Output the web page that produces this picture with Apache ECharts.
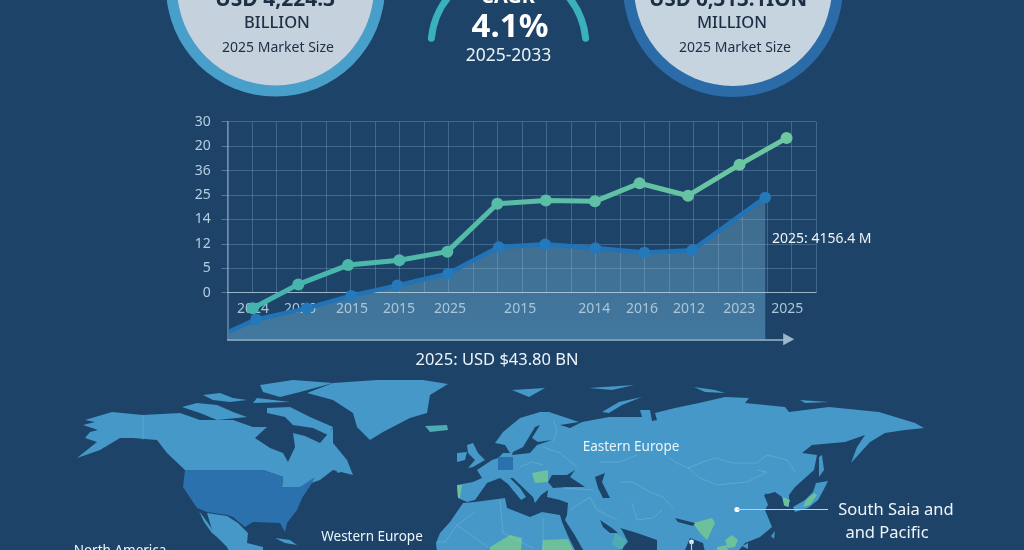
<!DOCTYPE html>
<html><head><meta charset="utf-8">
<style>html,body{margin:0;padding:0;background:#1d4369}#c{width:1024px;height:550px}</style>
<script src="https://cdn.jsdelivr.net/npm/echarts@6/dist/echarts.min.js"></script>
</head><body><div id="c"></div>
<script>
// ----- line chart data (positions in grid-cell units)
const yTickLabels = ['0','5','12','14','25','36','20','30'];
const xTickLabels = ['2024','2026','2015','2015','2025','2015','2014','2016','2012','2023','2025'];
const xTickPos    = [1.03,2.95,5.07,6.99,9.07,11.93,14.95,16.9,18.82,20.87,22.83];
const greenX = [1.02,2.88,4.91,7.0,8.96,11.0,12.98,14.98,16.8,18.78,20.88,22.8];
const greenY = [-0.64,0.34,1.13,1.33,1.68,3.64,3.77,3.74,4.48,3.97,5.24,6.33];
const blueX  = [0.05,1.16,3.22,5.04,6.92,9.0,11.06,12.95,15.0,17.0,18.95,21.93];
const blueY  = [-1.60,-1.09,-0.64,-0.12,0.30,0.79,1.87,1.98,1.83,1.65,1.74,3.90];
const areaFloor = -1.907;

// ----- base map outlines
const land = {
 northAmerica:[[85,420],[112,412],[143,415],[180,413],[200,420],[233,420],[253,427],[267,427],[255,438],[270,448],[283,453],[288,462],[295,447],[293,433],[305,436],[320,443],[333,428],[333,443],[347,460],[353,475],[333,470],[320,480],[300,487],[282,487],[283,477],[263,470],[185,470],[167,453],[157,440],[133,438],[120,438],[100,450],[77,458],[97,442],[85,438],[90,432],[98,430],[83,425],[95,422]],
 arctic1:[[182,407],[197,403],[217,405],[233,412],[247,417],[217,420],[200,413]],
 arctic2:[[203,395],[220,393],[233,398],[247,400],[230,402],[213,400]],
 arctic3:[[260,385],[293,380],[333,383],[300,392],[280,397],[263,392]],
 arctic4:[[257,398],[290,402],[253,403]],
 baffin:[[267,408],[290,407],[310,417],[333,427],[328,435],[313,428],[293,425],[285,417],[267,413]],
 newfoundland:[[334,468],[343,461],[346,470],[338,473]],
 greenland:[[307,393],[333,383],[377,380],[423,380],[448,384],[430,395],[427,413],[410,418],[383,432],[370,440],[357,427],[353,413],[333,400]],
 mexico:[[207,513],[227,516],[238,523],[248,533],[247,543],[263,547],[263,560],[233,560],[227,547],[213,533]],
 baja:[[199,511],[208,523],[217,537],[212,533],[204,522]],
 cuba:[[275,538],[290,540],[297,545],[285,543]],
 eurasia:[[457,485],[458,498],[467,502],[475,500],[487,483],[500,478],[508,484],[517,495],[521,500],[526,497],[520,488],[510,478],[513,478],[533,497],[535,503],[541,495],[548,490],[547,497],[560,500],[568,503],[567,515],[565,520],[574,534],[582,548],[590,560],[610,560],[628,542],[622,530],[620,528],[637,533],[657,540],[657,555],[662,560],[680,560],[685,550],[690,538],[703,543],[705,552],[708,560],[730,560],[739,550],[745,543],[760,537],[772,527],[765,510],[769,503],[765,493],[779,500],[784,505],[789,507],[789,495],[795,487],[814,470],[817,455],[802,453],[812,445],[845,442],[865,435],[857,447],[851,463],[870,442],[885,433],[905,430],[924,428],[915,423],[879,412],[829,407],[789,412],[785,407],[745,403],[749,398],[725,397],[699,403],[675,408],[655,413],[657,420],[652,421],[650,410],[640,410],[642,417],[609,417],[582,422],[570,428],[560,425],[579,422],[549,412],[540,412],[520,418],[503,432],[495,443],[505,445],[510,453],[503,453],[498,458],[492,460],[477,470],[482,478],[473,482]],
 britain:[[467,445],[473,443],[478,453],[485,460],[473,467],[468,468],[475,460],[468,453]],
 ireland:[[457,453],[467,452],[465,460],[457,462]],
 svalbard:[[512,390],[545,388],[529,397]],
 franzJosef:[[589,388],[634,385],[612,390]],
 severnaya:[[694,387],[715,390],[725,393],[705,392]],
 novaya:[[602,412],[619,402],[642,397],[622,405],[609,413]],
 siberianIs:[[800,400],[829,402],[805,403]],
 sakhalin:[[819,457],[822,455],[824,470],[819,477]],
 japan:[[816,483],[828,481],[823,491],[818,500],[808,508],[795,512],[793,507],[805,500],[813,492]],
 taiwan:[[771,536],[775,531],[774,539]],
 hainan:[[742,546],[748,543],[748,549]],
 sicily:[[513,483],[516,484],[516,491],[513,491]],
 africa:[[463,503],[475,502],[505,498],[507,508],[530,517],[542,512],[560,515],[562,522],[568,536],[575,550],[578,570],[440,580],[436,543],[440,533],[450,522]]
};
const usa = {usa:[[185,470],[263,470],[283,477],[282,487],[300,487],[315,477],[312,483],[302,498],[297,510],[287,523],[285,532],[280,523],[253,522],[245,527],[233,517],[227,515],[207,512],[197,508],[183,487]],
 germany:[[498,457],[513,457],[513,470],[498,470]]};
const greens = {
 portugal:[[457,485],[462,485],[460,498],[458,498]],
 romania:[[532,473],[548,470],[548,482],[535,483]],
 sahel:[[490,547],[510,535],[522,538],[520,560],[490,560]],
 sudan:[[542,550],[543,540],[568,539],[573,550],[575,560],[545,560]],
 eastIndia:[[693,523],[712,518],[715,523],[707,540],[700,533]],
 indochina:[[725,540],[732,535],[738,540],[735,547],[728,548]],
 malaya:[[717,547],[727,545],[728,550],[717,550]],
 korea:[[783,497],[790,500],[788,507],[783,505]],
 honshu:[[806,500],[814,493],[817,495],[810,505],[803,507]]
};
const teals = {
 iceland:[[425,426],[447,425],[448,430],[430,432]],
 oman:[[615,533],[627,540],[622,550],[612,545]]
};
const seas = {
 baltic:[[513,452],[523,447],[535,427],[540,425],[532,438],[538,442],[552,440],[537,445],[530,453],[512,455]],
 blackSea:[[548,482],[552,475],[567,475],[575,470],[570,477],[585,487],[567,487],[553,488]],
 caspian:[[595,477],[605,473],[602,482],[610,498],[603,498],[598,488]],
 gulf:[[600,520],[612,528],[618,533],[610,533],[603,527]],
 yellowSea:[[764,495],[775,492],[782,497],[784,505],[779,510],[769,507]],
 ganges:[[675,518],[695,523],[693,526],[678,522]]
};
const borders = [
 [[143,415],[143,440]],
 [[688,468],[700,463],[715,458],[733,463],[757,463],[767,455],[787,460],[795,472]],
 [[688,468],[700,478],[717,485],[747,482],[767,472],[757,470]],
 [[668,457],[677,463],[688,468]],
 [[600,462],[620,462],[637,455]],
 [[620,482],[633,482],[650,492],[663,497],[673,508]],
 [[632,503],[637,520],[653,518],[662,510]],
 [[437,542],[445,542],[457,525],[475,512]],
 [[457,525],[488,547]],
 [[500,500],[503,533],[533,548]],
 [[543,518],[543,550]],
 [[553,420],[557,430],[553,442]],
 [[543,447],[560,453],[577,467]],
 [[520,467],[532,462],[543,465]],
 [[570,510],[590,497],[597,510],[617,520]],
 [[563,488],[593,490]]
];

// ----- texts
const leftCircle  = ['USD 4,224.3','BILLION','2025 Market Size'];
const rightCircle = ['USD 6,313.1ION','MILLION','2025 Market Size'];
const cagrTexts   = ['CAGR','4.1%','2025-2033'];
const chartNotes  = ['2025: USD $43.80 BN','2025: 4156.4 M'];
const regionNames = ['Eastern Europe','Western Europe','North America','South Saia and','and Pacific'];

const FONT = '"Noto Sans", sans-serif';
const feats = [];
const addAll = (o)=>Object.keys(o).forEach(n=>feats.push({type:'Feature',properties:{name:n},
  geometry:{type:'Polygon',coordinates:[o[n].concat([o[n][0]]).map(p=>[p[0],-p[1]])]}}));
[land,usa,greens,teals,seas].forEach(addAll);
echarts.registerMap('world',{type:'FeatureCollection',features:feats});

const mix=(a,b,t)=>'rgb('+a.map((v,i)=>Math.round(v+(b[i]-v)*t)).join(',')+')';
const txt=(s,x,y,size,weight,fill,align)=>({type:'text',z:20,silent:true,style:{text:s,x:x,y:y,font:weight+' '+size+'px '+FONT,fill:fill,align:align||'center',verticalAlign:'middle'}});
const disc=(x,y,r,c)=>({type:'circle',z:10,silent:true,shape:{cx:x,cy:y,r:r},style:{fill:c}});
const dark='#1c2f44';

const chart=echarts.init(document.getElementById('c'),null,{renderer:'canvas'});
chart.setOption({
 animation:false,
 backgroundColor:'#1d4369',
 grid:[
  {left:227.7,top:121.7,width:588.3,height:171,containLabel:false},
  {left:227.7,top:121.7,width:563,height:217.6}
 ],
 xAxis:[
  {gridIndex:0,type:'value',min:0,max:24,interval:1,z:2,
   axisLine:{show:true,onZero:false,lineStyle:{color:'rgba(205,222,235,0.65)',width:1.2}},
   axisTick:{show:false},
   splitLine:{show:true,lineStyle:{color:'rgba(150,190,220,0.3)',width:1}},
   axisLabel:{customValues:xTickPos,margin:9,fontFamily:FONT,fontSize:14,color:'#a9c6da',
     formatter:(v)=>xTickLabels[xTickPos.indexOf(v)]}},
  {gridIndex:1,type:'value',min:0,max:1,z:2,
   axisLine:{show:true,symbol:['none','triangle'],symbolSize:[12,11],symbolOffset:[0,-2],lineStyle:{color:'#9db8cc',width:1.5}},
   axisTick:{show:false},splitLine:{show:false},axisLabel:{show:false}}
 ],
 yAxis:[
  {gridIndex:0,type:'value',min:0,max:7,interval:1,z:2,
   axisLine:{show:false},
   axisTick:{show:true,inside:false,length:6,lineStyle:{color:'rgba(150,190,220,0.45)'}},
   splitLine:{show:true,lineStyle:{color:'rgba(150,190,220,0.3)',width:1}},
   axisLabel:{margin:17,fontFamily:FONT,fontSize:14,color:'#b4cfe0',formatter:(v)=>yTickLabels[v]}},
  {gridIndex:1,type:'value',min:0,max:1,z:2,
   axisLine:{show:true,lineStyle:{color:'rgba(170,200,222,0.55)',width:1.5}},
   axisTick:{show:false},splitLine:{show:false},axisLabel:{show:false}}
 ],
 geo:{map:'world',boundingCoords:[[0,0],[1024,-550]],left:0,top:0,width:1024,height:550,aspectScale:1,
   roam:false,silent:true,z:0,
   itemStyle:{areaColor:'#4598c7',borderWidth:0},
   emphasis:{disabled:true},
   regions:[].concat(
     Object.keys(land).map(n=>({name:n,itemStyle:{areaColor:'#4598c7',borderWidth:0}})),
     Object.keys(usa).map(n=>({name:n,itemStyle:{areaColor:'#2b71ae',borderWidth:0}})),
     Object.keys(greens).map(n=>({name:n,itemStyle:{areaColor:'#6cc09b',borderWidth:0}})),
     Object.keys(teals).map(n=>({name:n,itemStyle:{areaColor:'#4fabb3',borderWidth:0}})),
     Object.keys(seas).map(n=>({name:n,itemStyle:{areaColor:'#1d4369',borderWidth:0}})))
 },
 series:[
  {type:'lines',coordinateSystem:'geo',polyline:true,silent:true,z:1,
   lineStyle:{color:'rgba(175,220,240,0.6)',width:0.8},
   data:borders.map(b=>({coords:b.map(p=>[p[0],-p[1]])}))},
  {name:'blueArea',type:'line',xAxisIndex:0,yAxisIndex:0,clip:false,z:1,silent:true,
   showSymbol:false,symbol:'none',lineStyle:{width:0},
   areaStyle:{origin:areaFloor,opacity:1,color:new echarts.graphic.LinearGradient(0,0,0,1,[
      {offset:0,color:'rgba(90,140,170,0.55)'},{offset:1,color:'rgba(88,152,192,0.62)'}])},
   data:blueX.map((x,i)=>[x,blueY[i]])},
  {name:'blue',type:'line',xAxisIndex:0,yAxisIndex:0,clip:false,z:3,silent:true,
   symbol:'circle',symbolSize:11.5,showAllSymbol:true,
   lineStyle:{width:4.5,color:'#2173b6'},itemStyle:{color:'#2479bb'},
   data:blueX.map((x,i)=>i===0?{value:[x,blueY[i]],symbol:'none'}:[x,blueY[i]])},
  {name:'green',type:'line',xAxisIndex:0,yAxisIndex:0,clip:false,z:4,silent:true,
   symbol:'circle',symbolSize:12,showAllSymbol:true,
   lineStyle:{width:5,color:new echarts.graphic.LinearGradient(0,0,1,0,[
      {offset:0,color:'#43b3ae'},{offset:1,color:'#6fc7a0'}])},
   itemStyle:{color:(p)=>mix([67,179,174],[111,199,160],p.dataIndex/(greenX.length-1))},
   data:greenX.map((x,i)=>[x,greenY[i]])}
 ],
 graphic:[
  disc(275.5,-13,109.5,'#489fc9'),disc(275.5,-13,98.5,'#c5d1dc'),
  disc(733,-13,110,'#2a6ba8'),disc(733,-13,99,'#c6d4df'),
  {type:'arc',z:10,silent:true,shape:{cx:508.5,cy:46,r:77.5,startAngle:Math.PI+0.1,endAngle:2*Math.PI-0.1,clockwise:true},
   style:{stroke:'#3bb0bd',lineWidth:7,fill:null,lineCap:'round'}},
  txt(leftCircle[0],275,0,21,'700',dark),
  txt(leftCircle[1],277,23,16.5,'500',dark),
  txt(leftCircle[2],278,48,14,'400',dark),
  txt(rightCircle[0],728,0,20.5,'700',dark),
  txt(rightCircle[1],732,23,16.5,'500',dark),
  txt(rightCircle[2],735,48,14,'400',dark),
  txt(cagrTexts[0],508,-3,20,'700','#fff'),
  txt(cagrTexts[1],510,28,33,'700','#fff'),
  txt(cagrTexts[2],508.5,56,17.5,'400','#eaf2f7'),
  txt(chartNotes[0],497,360,16.5,'400','#eef4f8'),
  txt(chartNotes[1],772,239,14,'400','#eef4f8','left'),
  txt(regionNames[0],631,447,13.5,'400','#eaf5fb'),
  txt(regionNames[1],372,537,13.5,'400','#eaf5fb'),
  txt(regionNames[2],120,551,13.5,'400','#eaf5fb'),
  txt(regionNames[3],896,510,16.5,'400','#eef5f9'),
  txt(regionNames[4],887,533,16.5,'400','#eef5f9'),
  {type:'line',z:15,silent:true,shape:{x1:737,y1:509.5,x2:828,y2:509.5},style:{stroke:'#b8d4e4',lineWidth:1.2}},
  disc(737,509.5,2.6,'#fff'),
  {type:'line',z:15,silent:true,shape:{x1:691.5,y1:542,x2:691.5,y2:552},style:{stroke:'#b8d4e4',lineWidth:1.2}},
  disc(691.5,542,2.4,'#dff0f8')
 ]
});
</script></body></html>
